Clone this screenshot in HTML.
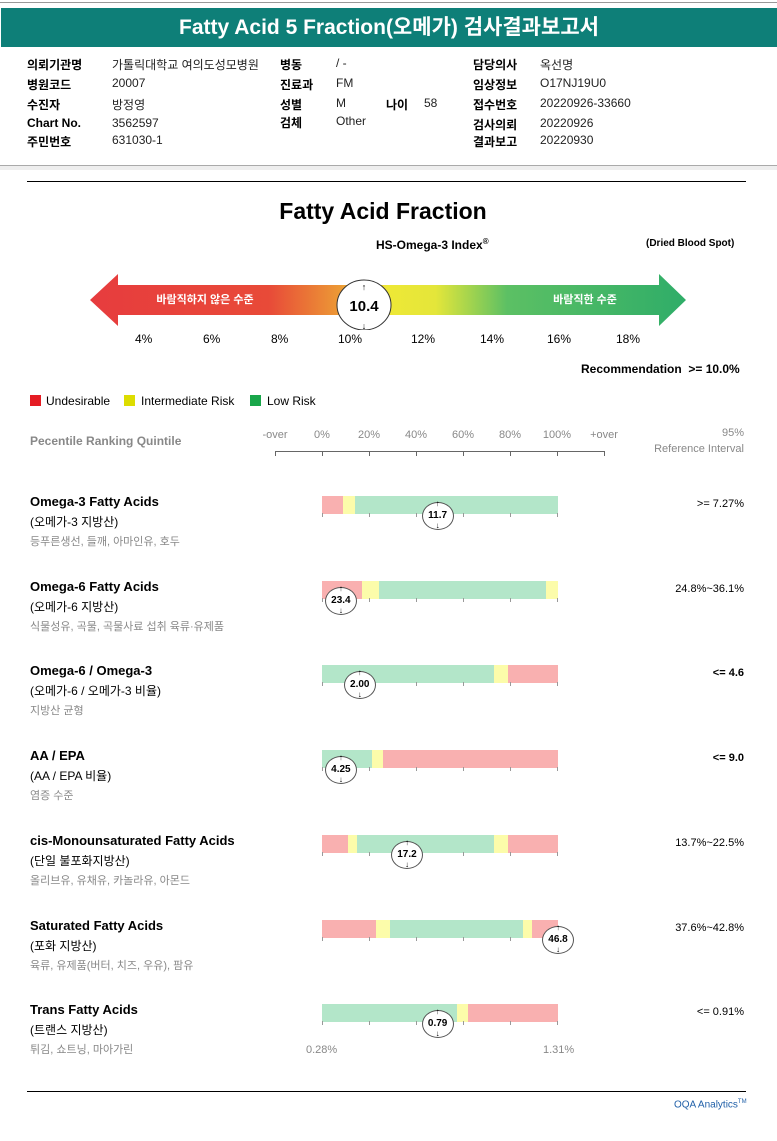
<!DOCTYPE html>
<html><head><meta charset="utf-8">
<style>
body{margin:0;width:777px;height:1141px;background:#fff;position:relative;overflow:hidden;font-family:"Liberation Sans","Noto Sans CJK KR",sans-serif;color:#000}
.a{position:absolute;white-space:nowrap}
.k{font-weight:bold;font-size:12px}
.v{font-size:12px;color:#222}
</style></head><body>
<div class="a" style="left:0;top:2px;width:777px;height:1px;background:#999"></div>
<div class="a" style="left:1px;top:8px;width:776px;height:39px;background:#0e7f78;color:#fff;font-weight:bold;font-size:21px;text-align:center;line-height:39px">Fatty Acid 5 Fraction(오메가) 검사결과보고서</div>
<div>
<div class="a k" style="left:27px;top:56px">의뢰기관명</div><div class="a v" style="left:112px;top:56px">가톨릭대학교 여의도성모병원</div>
<div class="a k" style="left:27px;top:76px">병원코드</div><div class="a v" style="left:112px;top:76px">20007</div>
<div class="a k" style="left:27px;top:96px">수진자</div><div class="a v" style="left:112px;top:96px">방정영</div>
<div class="a k" style="left:27px;top:116px">Chart No.</div><div class="a v" style="left:112px;top:116px">3562597</div>
<div class="a k" style="left:27px;top:133px">주민번호</div><div class="a v" style="left:112px;top:133px">631030-1</div>
<div class="a k" style="left:280px;top:56px">병동</div><div class="a v" style="left:336px;top:56px">/ -</div>
<div class="a k" style="left:280px;top:76px">진료과</div><div class="a v" style="left:336px;top:76px">FM</div>
<div class="a k" style="left:280px;top:96px">성별</div><div class="a v" style="left:336px;top:96px">M</div>
<div class="a k" style="left:386px;top:96px">나이</div><div class="a v" style="left:424px;top:96px">58</div>
<div class="a k" style="left:280px;top:114px">검체</div><div class="a v" style="left:336px;top:114px">Other</div>
<div class="a k" style="left:473px;top:56px">담당의사</div><div class="a v" style="left:540px;top:56px">옥선명</div>
<div class="a k" style="left:473px;top:76px">임상정보</div><div class="a v" style="left:540px;top:76px">O17NJ19U0</div>
<div class="a k" style="left:473px;top:96px">접수번호</div><div class="a v" style="left:540px;top:96px">20220926-33660</div>
<div class="a k" style="left:473px;top:116px">검사의뢰</div><div class="a v" style="left:540px;top:116px">20220926</div>
<div class="a k" style="left:473px;top:133px">결과보고</div><div class="a v" style="left:540px;top:133px">20220930</div>
</div>
<div class="a" style="left:0;top:165px;width:777px;height:1px;background:#aaa"></div>
<div class="a" style="left:0;top:166px;width:777px;height:4px;background:#eee"></div>
<div class="a" style="left:27px;top:181px;width:719px;height:1px;background:#000"></div>
<div class="a" style="left:0;top:198px;width:766px;text-align:center;font-size:23px;font-weight:bold">Fatty Acid Fraction</div>
<div class="a" style="left:376px;top:237px;font-size:12px;font-weight:bold">HS-Omega-3 Index<sup style="font-size:8px">®</sup></div>
<div class="a" style="left:646px;top:238px;font-size:10px;font-weight:bold">(Dried Blood Spot)</div>
<svg class="a" style="left:0;top:270px" width="777" height="60">
<defs><linearGradient id="g" x1="90" x2="686" gradientUnits="userSpaceOnUse">
<stop offset="0" stop-color="#e73c3e"/><stop offset="0.3" stop-color="#e84a38"/><stop offset="0.42" stop-color="#ec9a35"/><stop offset="0.5" stop-color="#eee836"/><stop offset="0.58" stop-color="#e4e63a"/><stop offset="0.7" stop-color="#5cc064"/><stop offset="1" stop-color="#2fad68"/></linearGradient></defs>
<polygon points="90,30 118,4 118,15 659,15 659,4 686,30 659,56 659,45 118,45 118,56" fill="url(#g)"/>
<text x="205" y="33" fill="#fff" font-size="11" font-weight="bold" text-anchor="middle">바람직하지 않은 수준</text>
<text x="585" y="33" fill="#fff" font-size="11" font-weight="bold" text-anchor="middle">바람직한 수준</text>
<ellipse cx="364" cy="35" rx="27" ry="25" fill="#fff" stroke="#333"/>
<text x="364" y="41" font-size="15" font-weight="bold" text-anchor="middle">10.4</text>
<text x="364" y="20" font-size="9" text-anchor="middle">↑</text><text x="364" y="59" font-size="9" text-anchor="middle">↓</text>
</svg>
<div>
<div class="a" style="left:135px;top:332px;font-size:12px">4%</div><div class="a" style="left:203px;top:332px;font-size:12px">6%</div><div class="a" style="left:271px;top:332px;font-size:12px">8%</div><div class="a" style="left:338px;top:332px;font-size:12px">10%</div><div class="a" style="left:411px;top:332px;font-size:12px">12%</div><div class="a" style="left:480px;top:332px;font-size:12px">14%</div><div class="a" style="left:547px;top:332px;font-size:12px">16%</div><div class="a" style="left:616px;top:332px;font-size:12px">18%</div>
</div>
<div class="a" style="left:581px;top:362px;font-size:12px;font-weight:bold">Recommendation &nbsp;&gt;= 10.0%</div>
<div>
<div class="a" style="left:30px;top:395px;width:11px;height:11px;background:#e51c23"></div><div class="a" style="left:46px;top:394px;font-size:12px">Undesirable</div>
<div class="a" style="left:124px;top:395px;width:11px;height:11px;background:#dddd00"></div><div class="a" style="left:141px;top:394px;font-size:12px">Intermediate Risk</div>
<div class="a" style="left:250px;top:395px;width:11px;height:11px;background:#19a64a"></div><div class="a" style="left:267px;top:394px;font-size:12px">Low Risk</div>
</div>
<div class="a" style="left:30px;top:434px;font-size:12px;color:#888;font-weight:bold">Pecentile Ranking Quintile</div>
<div class="a" style="left:640px;top:425px;width:104px;text-align:right;font-size:11px;color:#888;line-height:16px">95%<br>Reference Interval</div>
<div id="qax"></div>
<div id="rows"></div>
<div class="a" style="left:27px;top:1091px;width:719px;height:1px;background:#000"></div>
<div class="a" style="left:674px;top:1099px;font-size:10px;color:#1f5fa8">OQA Analytics<sup style="font-size:6px">TM</sup></div>
<script>
// percentile axis
const quintileLabels=["-over","0%","20%","40%","60%","80%","100%","+over"];
const names=["Omega-3 Fatty Acids","Omega-6 Fatty Acids","Omega-6 / Omega-3","AA / EPA","cis-Monounsaturated Fatty Acids","Saturated Fatty Acids","Trans Fatty Acids"];
const subs=["(오메가-3 지방산)","(오메가-6 지방산)","(오메가-6 / 오메가-3 비율)","(AA / EPA 비율)","(단일 불포화지방산)","(포화 지방산)","(트랜스 지방산)"];
const notes=["등푸른생선, 들깨, 아마인유, 호두","식물성유, 곡물, 곡물사료 섭취 육류·유제품","지방산 균형","염증 수준","올리브유, 유채유, 카놀라유, 아몬드","육류, 유제품(버터, 치즈, 우유), 팜유","튀김, 쇼트닝, 마아가린"];
const refs=[">= 7.27%","24.8%~36.1%","<= 4.6","<= 9.0","13.7%~22.5%","37.6%~42.8%","<= 0.91%"];
const refBold=[false,false,true,true,false,false,false];
// segments: [color, start, end] on 0..100 bar scale
const segments=[
 [["r",0,9],["y",9,14],["g",14,100]],
 [["r",0,17],["y",17,24],["g",24,95],["y",95,100]],
 [["g",0,73],["y",73,79],["r",79,100]],
 [["g",0,21],["y",21,26],["r",26,100]],
 [["r",0,11],["y",11,15],["g",15,73],["y",73,79],["r",79,100]],
 [["r",0,23],["y",23,29],["g",29,85],["y",85,89],["r",89,100]],
 [["g",0,57],["y",57,62],["r",62,100]]];
const values=["11.7","23.4","2.00","4.25","17.2","46.8","0.79"];
const markerPos=[49,8,16,8,36,100,49];
const col={r:"#f9b0b0",y:"#fcfcaa",g:"#b3e6c9"};
const X0=322,X1=558;
function xs(v){return X0+(X1-X0)*v/100;}
const qax=document.getElementById('qax');
const qx=[275,322,369,416,463,510,557,604];
quintileLabels.forEach((t,i)=>{const d=document.createElement('div');


d.className='a';d.style.cssText=`left:${qx[i]-30}px;width:60px;text-align:center;top:429px;font-size:11px;color:#888`;d.textContent=t;qax.appendChild(d);
const tk=document.createElement('div');tk.className='a';tk.style.cssText=`left:${qx[i]}px;top:451px;width:1px;height:5px;background:#666`;qax.appendChild(tk);});
const ax=document.createElement('div');ax.className='a';ax.style.cssText='left:275px;top:451px;width:330px;height:1px;background:#666';qax.appendChild(ax);
const rows=document.getElementById('rows');
names.forEach((n,i)=>{const top=494+i*84.7;
const g=document.createElement('div');


let h=`<div class="a" style="left:30px;top:${top}px;font-size:13px;font-weight:bold">${n}</div>
<div class="a" style="left:30px;top:${top+19}px;font-size:12px">${subs[i]}</div>
<div class="a" style="left:30px;top:${top+39}px;font-size:11px;color:#888">${notes[i]}</div>
<div class="a" style="left:600px;width:144px;text-align:right;top:${top+4}px;font-size:11px;${refBold[i]?'font-weight:bold':''}">${refs[i]}</div>`;
segments[i].forEach(s=>{h+=`<div class="a" style="left:${xs(s[1])}px;width:${xs(s[2])-xs(s[1])}px;top:${top+2}px;height:18px;background:${col[s[0]]}"></div>`;});
for(let k=0;k<6;k++)h+=`<div class="a" style="left:${X0+k*47}px;top:${top+19}px;width:1px;height:4px;background:#999"></div>`;
const mx=xs(markerPos[i]);
h+=`<div class="a" style="left:${mx-16}px;top:${top+8}px;width:30px;height:26px;border:1px solid #555;border-radius:50%;background:#fff;text-align:center;line-height:26px;font-size:10px;font-weight:bold">${values[i]}</div>
<div class="a" style="left:${mx-4}px;top:${top+5}px;font-size:8px;width:8px;text-align:center">↑</div><div class="a" style="left:${mx-4}px;top:${top+27}px;font-size:8px;width:8px;text-align:center">↓</div>`;
g.innerHTML=h;rows.appendChild(g);});
const l1=document.createElement('div');l1.className='a';l1.style.cssText='left:306px;top:1044px;font-size:11px;color:#888';l1.textContent='0.28%';


rows.appendChild(l1);
const l2=document.createElement('div');l2.className='a';l2.style.cssText='left:543px;top:1044px;font-size:11px;color:#888';l2.textContent='1.31%';


rows.appendChild(l2);
</script>
</body></html>
